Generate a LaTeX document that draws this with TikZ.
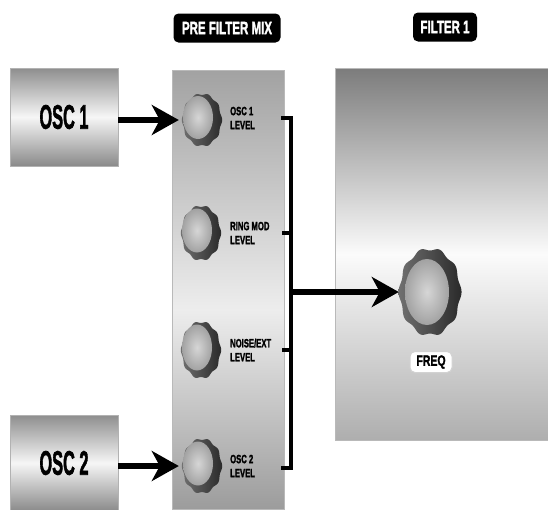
\documentclass[tikz,border=0pt]{standalone}
\usepackage{fontspec}
\setmainfont{Liberation Sans}[BoldFeatures={FakeBold=2.2}]
\usetikzlibrary{arrows.meta,shapes.geometric}
\definecolor{ringL}{HTML}{707070}
\definecolor{ringR}{HTML}{2A2A2A}
\definecolor{knobI}{HTML}{D6D6D6}
\definecolor{knobO}{HTML}{A2A2A2}
\definecolor{oscT}{HTML}{8E8E8E}
\definecolor{oscM}{HTML}{F6F6F6}
\definecolor{oscB}{HTML}{8A8A8A}
\definecolor{pfmT}{HTML}{A2A2A2}
\definecolor{pfmM}{HTML}{EDEDED}
\definecolor{pfmB}{HTML}{9C9C9C}
\definecolor{fltT}{HTML}{7C7C7C}
\definecolor{fltM}{HTML}{FBFBFB}
\definecolor{fltB}{HTML}{AEAEAE}
\pgfdeclareverticalshading{pfmshade}{100bp}{color(0bp)=(pfmB); color(25bp)=(pfmB); color(47.7bp)=(pfmM); color(75bp)=(pfmT); color(100bp)=(pfmT)}
\pgfdeclareverticalshading{fltshade}{100bp}{color(0bp)=(fltB); color(25bp)=(fltB); color(50bp)=(fltM); color(75bp)=(fltT); color(100bp)=(fltT)}
\newcommand\sqz[2]{\scalebox{#1}[1]{#2}}
\begin{document}
\begin{tikzpicture}[x=1pt,y=-1pt,
  oscbox/.style={rectangle, minimum width=108pt, minimum height=98pt, inner sep=0pt,
    top color=oscT, bottom color=oscB, middle color=oscM, draw=gray!60, line width=0.6pt,
    font=\bfseries\fontsize{34}{34}\selectfont},
  pfmpanel/.style={rectangle, minimum width=112pt, minimum height=439pt, inner sep=0pt,
    shading=pfmshade, shade, draw=gray!55, line width=0.5pt},
  fltpanel/.style={rectangle, minimum width=213pt, minimum height=372pt, inner sep=0pt,
    shading=fltshade, shade, draw=gray!55, line width=0.5pt},
  titlebox/.style={rectangle, fill=black, rounded corners=5pt, text=white, inner sep=0pt,
    minimum height=29pt, font=\bfseries\fontsize{18}{18}\selectfont},
  freqbox/.style={rectangle, fill=white, draw=gray!35, line width=1pt, rounded corners=5pt,
    inner sep=0pt, minimum width=42pt, minimum height=21pt, font=\bfseries\fontsize{15}{15}\selectfont},
  lbl/.style={anchor=west, inner sep=0pt, align=left, font=\bfseries\fontsize{12}{14}\selectfont},
  knobnode/.style={ellipse, inner sep=0pt},
  arr/.style={line width=5.5pt, -{Stealth[length=27pt, width=30pt, inset=8pt]}},
  bracket/.style={line width=4.5pt, line cap=butt},
  pics/knob/.style n args={6}{code={
    \shade[left color=ringL, right color=ringR]
      plot[domain=0:357, samples=120, smooth cycle, variable=\t]
      ({#1*(1+0.035*cos(10*\t))*cos(\t)}, {#2*(1+0.035*cos(10*\t))*sin(\t)});
    \shade[inner color=knobI, outer color=knobO] (#5,#6) ellipse [x radius=#3pt, y radius=#4pt];
  }}
]
\fill[white] (0,0) rectangle (548,509);
\useasboundingbox (0,0) rectangle (548,509);

% panels
\node[pfmpanel] (pfm) at (228,289.5) {};
\node[fltpanel] (flt) at (441.5,254) {};

% titles
\node[titlebox, minimum width=107pt] (tpfm) at (227,28) {\sqz{0.64}{PRE FILTER MIX}};
\node[titlebox, minimum width=64pt] (tflt) at (445,27) {\sqz{0.64}{FILTER 1}};

% oscillators
\node[oscbox] (osc1) at (64,117) {\sqz{0.48}{OSC 1}};
\node[oscbox, minimum height=96pt] (osc2) at (64,463) {\sqz{0.48}{OSC 2}};

% knobs
\pic at (202,120) {knob={19.5}{26}{15}{21.5}{-4}{-2.5}};
\pic at (201,233) {knob={19.5}{27}{15}{22}{-4}{-2.5}};
\pic at (201,350) {knob={19.5}{28}{15}{23}{-4}{-2.5}};
\pic at (202,466) {knob={19.5}{27}{15}{22}{-4}{-2.5}};
\pic at (430,292) {knob={30.5}{43}{22}{33}{-3}{0}};
\node[knobnode, minimum width=40pt, minimum height=54pt] (k1) at (202,120) {};
\node[knobnode, minimum width=40pt, minimum height=56pt] (k2) at (201,233) {};
\node[knobnode, minimum width=40pt, minimum height=58pt] (k3) at (201,350) {};
\node[knobnode, minimum width=40pt, minimum height=56pt] (k4) at (202,466) {};
\node[knobnode, minimum width=62pt, minimum height=88pt] (fk) at (430,292) {};

% knob labels
\node[lbl] (l1) at (230,118) {\sqz{0.64}{OSC 1}\\\sqz{0.64}{LEVEL}};
\node[lbl] (l2) at (230,233) {\sqz{0.64}{RING MOD}\\\sqz{0.64}{LEVEL}};
\node[lbl] (l3) at (230,350) {\sqz{0.64}{NOISE/EXT}\\\sqz{0.64}{LEVEL}};
\node[lbl] (l4) at (230,466) {\sqz{0.64}{OSC 2}\\\sqz{0.64}{LEVEL}};
\node[freqbox] (freq) at (431,362) {\sqz{0.7}{FREQ}};

% bracket
\coordinate (b1) at (281,118);
\coordinate (b2) at (282,233);
\coordinate (b3) at (282,350);
\coordinate (b4) at (281,468);
\coordinate (bt) at (291,118);
\coordinate (bb) at (291,468);
\coordinate (bm) at (291,292);
\draw[bracket] (b1) -- (bt) -- (bb) -- (b4);
\draw[bracket] (b2) -- (b2 -| bt);
\draw[bracket] (b3) -- (b3 -| bt);

% arrows
\draw[arr] (osc1.east |- k1) -- ([xshift=-3pt]k1.west);
\draw[arr] (osc2.east |- k4) -- ([xshift=-3pt]k4.west);
\draw[arr] (bm) -- (fk.west);
\end{tikzpicture}
\end{document}
